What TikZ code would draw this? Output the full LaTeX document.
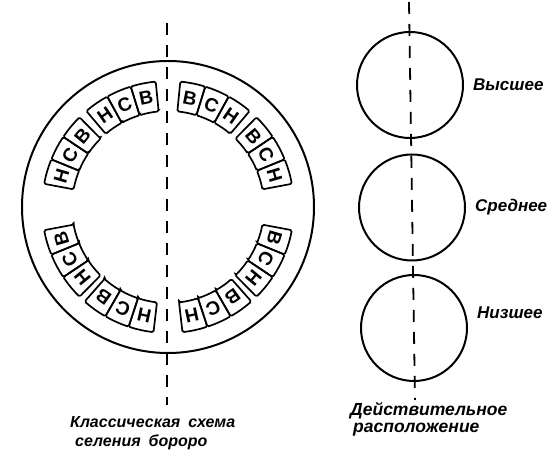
\documentclass[tikz,border=0pt]{standalone}
\usepackage{fontspec}
\setmainfont{Liberation Sans}
\usetikzlibrary{positioning}

\begin{document}
\begin{tikzpicture}[x=1pt,y=1pt,
      node distance=9pt,
      ring/.style={draw,circle,line width=2pt,minimum size=292pt,inner sep=0pt},
      disc/.style={draw,circle,line width=2pt,minimum size=106pt,inner sep=0pt},
      axis/.style={line width=1.8pt,dash pattern=on 12pt off 10pt},
      cell/.style={draw,line width=1.7pt,rounded corners=1.5pt},
      letter/.style={font=\fontsize{19}{19}\selectfont\bfseries,inner sep=0pt},
      lbl/.style={font=\fontsize{17}{17}\selectfont\bfseries\itshape,inner sep=0pt},
      caption/.style={font=\fontsize{16}{19}\selectfont\bfseries\itshape,
                      inner sep=0pt,align=left,anchor=west}
    ]
      \useasboundingbox (0,0) rectangle (560,466);
      % classical scheme
      \node[ring] (plan) at (168,259) {};
      \coordinate (axisTop) at (167,443);
      \coordinate (axisBot) at (167,61);
      \draw[axis] (axisTop)--(axisBot);
      \begin{scope}[shift={(plan.center)}]
        \foreach \a/\p/\q [count=\g] in {113/Н/В,152/Н/В,208/Н/В,246/Н/В,
                                         67/В/Н,28/В/Н,-28/В/Н,-66/В/Н}{
          \foreach \k/\ltr in {1/\p,2/С,3/\q}{
            \pgfmathsetmacro\m{\a+(2-\k)*11.6}
            \draw[cell] (\m-5.8:96)--(\m-5.8:126)
              arc[start angle=\m-5.8,end angle=\m+5.8,radius=126]
              --(\m+5.8:96)
              arc[start angle=\m+5.8,end angle=\m-5.8,radius=96]--cycle;
            \node[letter,rotate=\m-90] (cell\g\k) at (\m:111) {\ltr};
          }
        }
      \end{scope}
      % actual arrangement
      \coordinate (levTop) at (409,464);
      \coordinate (levBot) at (415,66);
      \draw[axis] (levTop)--(levBot);
      \node[disc] (high) at (410,381) {};
      \node[disc] (mid)  at (412,258.5) {};
      \node[disc] (low)  at (414,138) {};
      \node[lbl,right=of high] (highlbl) {Высшее};
      \node[lbl,right=of mid]  (midlbl)  {Среднее};
      \node[lbl,right=of low,yshift=15pt] (lowlbl) {Низшее};
      % captions
      \node[caption] (classic) at (70,32.5)
        {Классическая\enspace схема\\\hspace{5pt}селения\enspace бороро};
      \node[caption,font=\fontsize{17.5}{17}\selectfont\bfseries\itshape] (actual) at (350,46.5)
        {Действительное\\\hspace{3pt}расположение};
    \end{tikzpicture}
\end{document}
